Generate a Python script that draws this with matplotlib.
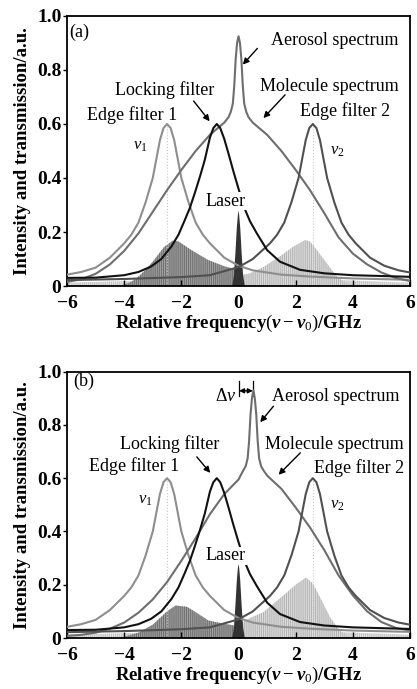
import numpy as np
import matplotlib.pyplot as plt

plt.rcParams['font.family'] = ['Liberation Serif', 'DejaVu Serif']
plt.rcParams['mathtext.fontset'] = 'custom'
plt.rcParams['mathtext.rm'] = 'Liberation Serif'
plt.rcParams['mathtext.it'] = 'Liberation Serif:italic'
plt.rcParams['mathtext.bf'] = 'Liberation Serif:bold'
plt.rcParams['mathtext.bfit'] = 'Liberation Serif:italic:bold'
plt.rcParams['hatch.linewidth'] = 0.8

# filters (same in both panels)
edge1_x = [-6, -5.5, -5, -4.5, -4, -3.75, -3.5, -3.25, -3.0, -2.875, -2.75, -2.625, -2.5,
           -2.375, -2.25, -2.125, -2.0, -1.75, -1.5, -1.25, -1.0, -0.5, 0.0, 0.5, 1.5, 2.5, 4.0, 6.0]
edge1_y = [0.042, 0.052, 0.068, 0.105, 0.158, 0.19, 0.235, 0.31, 0.40, 0.47, 0.54, 0.585, 0.60,
           0.585, 0.54, 0.47, 0.40, 0.31, 0.235, 0.19, 0.158, 0.105, 0.075, 0.058, 0.042, 0.035, 0.028, 0.023]

edge2_x = [-6, -4, -2, -1, 0, 0.5, 1.1, 1.35, 1.6, 1.85, 2.1, 2.225, 2.35, 2.475, 2.6,
           2.725, 2.85, 2.975, 3.1, 3.35, 3.6, 3.85, 4.1, 4.6, 5.1, 5.6, 6]
edge2_y = [0.022, 0.026, 0.033, 0.04, 0.07, 0.1, 0.158, 0.19, 0.235, 0.31, 0.40, 0.47, 0.54, 0.585, 0.60,
           0.585, 0.54, 0.47, 0.40, 0.31, 0.235, 0.19, 0.158, 0.105, 0.075, 0.058, 0.05]

lock_x = [-6, -5, -4, -3.5, -3.06, -2.7, -2.35, -2.1, -1.88, -1.7, -1.53, -1.35, -1.18, -1.0, -0.88,
          -0.76, -0.64, -0.5, -0.35, -0.18, 0.0, 0.2, 0.4, 0.64, 1.0, 1.45, 2.15, 3.0, 4.0, 6.0]
lock_y = [0.03, 0.031, 0.04, 0.052, 0.072, 0.1, 0.146, 0.19, 0.244, 0.29, 0.344, 0.405, 0.467, 0.55, 0.585,
          0.60, 0.585, 0.545, 0.49, 0.425, 0.36, 0.29, 0.24, 0.195, 0.133, 0.09, 0.06, 0.047, 0.04, 0.034]

laser_x = [-0.22, -0.16, -0.11, -0.06, -0.025, 0, 0.025, 0.06, 0.11, 0.16, 0.22]
laser_y = [0, 0.04, 0.12, 0.215, 0.26, 0.28, 0.26, 0.215, 0.12, 0.04, 0]

band_x = [-6, -4, -2, 0, 2, 4, 6]
band_y = [0.012, 0.018, 0.025, 0.045, 0.03, 0.02, 0.012]

# panel (a): molecule + aerosol spectrum
spec_a_x = [-6, -5.5, -5, -4.5, -4, -3.5, -3, -2.5, -2, -1.5, -1, -0.5, -0.35, -0.27, -0.2, -0.15,
            -0.1, -0.05, 0, 0.05, 0.1, 0.15, 0.2, 0.27, 0.35, 0.5, 1, 1.5, 2, 2.5, 3, 3.5, 4, 4.5, 5, 5.5, 6]
spec_a_y = [0.015, 0.025, 0.045, 0.08, 0.13, 0.195, 0.275, 0.355, 0.43, 0.50, 0.56, 0.605, 0.625, 0.645, 0.675, 0.74,
            0.84, 0.90, 0.925, 0.90, 0.84, 0.74, 0.675, 0.645, 0.625, 0.605, 0.56, 0.50, 0.43, 0.355, 0.27, 0.18, 0.12,
            0.08, 0.05, 0.03, 0.018]
dark_a_x = [-4.2, -4, -3.75, -3.5, -3.25, -3, -2.6, -2.3, -2.1, -1.65, -1.06, -0.47, 0, 0.1]
dark_a_y = [0, 0.005, 0.015, 0.035, 0.06, 0.09, 0.145, 0.168, 0.165, 0.133, 0.096, 0.072, 0.06, 0]
light_a_x = [-0.05, 0, 0.4, 0.87, 1.45, 1.92, 2.33, 2.5, 2.74, 3.09, 3.44, 3.7, 4.0, 4.2]
light_a_y = [0, 0.035, 0.047, 0.07, 0.11, 0.146, 0.17, 0.165, 0.133, 0.084, 0.035, 0.015, 0.005, 0]

# panel (b): spectrum shifted by delta nu
spec_b_x = [-6, -5.5, -5, -4.5, -4, -3.5, -3, -2.5, -2, -1.5, -1, -0.5, 0, 0.17, 0.25, 0.32, 0.37, 0.42,
            0.47, 0.52, 0.57, 0.62, 0.67, 0.72, 0.79, 0.87, 1.0, 1.5, 2, 2.5, 3, 3.5, 4, 4.5, 5, 5.5, 6]
spec_b_y = [0.008, 0.012, 0.02, 0.035, 0.058, 0.095, 0.145, 0.21, 0.29, 0.375, 0.465, 0.54, 0.595, 0.63, 0.645,
            0.675, 0.74, 0.84, 0.90, 0.93, 0.90, 0.84, 0.74, 0.675, 0.645, 0.63, 0.61, 0.56, 0.49, 0.415, 0.33,
            0.235, 0.16, 0.1, 0.06, 0.038, 0.028]
dark_b_x = [-4.2, -4, -3.5, -3, -2.5, -2.2, -1.8, -1.5, -1.06, -0.5, 0, 0.1]
dark_b_y = [0, 0.005, 0.02, 0.05, 0.1, 0.122, 0.117, 0.097, 0.066, 0.053, 0.045, 0]
light_b_x = [-0.05, 0, 0.4, 0.87, 1.57, 2.0, 2.36, 2.6, 2.85, 3.2, 3.55, 3.8, 4.0]
light_b_y = [0, 0.05, 0.075, 0.097, 0.16, 0.2, 0.227, 0.205, 0.153, 0.078, 0.027, 0.01, 0]

nu1, nu2 = -2.5, 2.6
xticks = [-6, -4, -2, 0, 2, 4, 6]
yticks = [0, 0.2, 0.4, 0.6, 0.8, 1.0]
ytick_labels = ['0', '0.2', '0.4', '0.6', '0.8', '1.0']

FS = 13


def arrow(ax, tip, tail):
    ax.annotate('', xy=tip, xytext=tail,
                arrowprops=dict(arrowstyle='-|>', color='k', lw=1.0, mutation_scale=9, shrinkA=0, shrinkB=0))


def draw_panel(ax, spec_x, spec_y, dark_x, dark_y, light_x, light_y, lab, lab_pos):
    # bar-like spectra
    ax.fill_between(band_x, band_y, facecolor='#e6e6e6', edgecolor='#c4c4c4', hatch='||||||||', lw=0, zorder=1)
    ax.fill_between(dark_x, dark_y, facecolor='#a4a4a4', edgecolor='#707070', hatch='||||||||', lw=0, zorder=1)
    ax.fill_between(light_x, light_y, facecolor='#e0e0e0', edgecolor='#b4b4b4', hatch='||||||||', lw=0, zorder=1)
    ax.fill(laser_x, laser_y, color='#333333', lw=0, zorder=2)
    ax.plot([nu1, nu1], [0, 0.6], ls=':', color='#c8c8c8', lw=0.8, zorder=1.5)
    ax.plot([nu2, nu2], [0, 0.6], ls=':', color='#c8c8c8', lw=0.8, zorder=1.5)

    ax.plot(edge1_x, edge1_y, color='#8e8e8e', lw=1.5, zorder=3)
    ax.plot(spec_x, spec_y, color='#6e6e6e', lw=1.5, zorder=3)
    ax.plot(edge2_x, edge2_y, color='#505050', lw=1.5, zorder=3)
    ax.plot(lock_x, lock_y, color='#111111', lw=1.5, zorder=4)

    ax.set_xlim(-6, 6)
    ax.set_ylim(0, 1)
    ax.set_xticks(xticks)
    ax.set_xticklabels(['\u2212' + str(-t) if t < 0 else str(t) for t in xticks])
    ax.set_yticks(yticks)
    ax.set_yticklabels(ytick_labels)
    ax.tick_params(axis='x', direction='in', length=4, width=1, pad=6.5)
    ax.tick_params(axis='y', direction='out', length=3, width=1, pad=1)
    for t in ax.get_xticklabels() + ax.get_yticklabels():
        t.set_fontsize(14)
        t.set_fontweight('bold')
    for s in ax.spines.values():
        s.set_linewidth(1.3)
    ax.set_xlabel(r'Relative frequency$(\mathbfit{\nu}-\mathbfit{\nu}_0)$/GHz', fontsize=13.5, fontweight='bold', labelpad=0.5)
    ax.set_ylabel('Intensity and transmission/a.u.', fontsize=13.5, fontweight='bold', labelpad=4)
    ax.text(lab_pos[0], lab_pos[1], lab, fontsize=FS, ha='center', va='center')


fig = plt.figure(figsize=(4.17, 6.89), dpi=100)
ax1 = fig.add_axes([0.1607, 0.5849, 0.8226, 0.3919])
ax2 = fig.add_axes([0.1607, 0.0740, 0.8226, 0.3866])

draw_panel(ax1, spec_a_x, spec_a_y, dark_a_x, dark_a_y, light_a_x, light_a_y, '(a)', (-5.58, 0.94))
ax1.text(3.35, 0.91, 'Aerosol spectrum', fontsize=FS, ha='center', va='center')
arrow(ax1, (0.15, 0.82), (0.66, 0.88))
ax1.text(-2.6, 0.727, 'Locking filter', fontsize=FS, ha='center', va='center')
arrow(ax1, (-1.01, 0.61), (-1.57, 0.685))
ax1.text(3.18, 0.739, 'Molecule spectrum', fontsize=FS, ha='center', va='center')
arrow(ax1, (0.87, 0.622), (1.63, 0.708))
ax1.text(-3.73, 0.634, 'Edge filter 1', fontsize=FS, ha='center', va='center')
ax1.text(3.73, 0.647, 'Edge filter 2', fontsize=FS, ha='center', va='center')
ax1.text(-3.44, 0.517, r'$\nu_1$', fontsize=12, ha='center', va='center')
ax1.text(3.44, 0.50, r'$\nu_2$', fontsize=12, ha='center', va='center')
ax1.text(-0.44, 0.314, 'Laser', fontsize=FS, ha='center', va='center', zorder=5,
         bbox=dict(facecolor='white', edgecolor='none', pad=0.5))

draw_panel(ax2, spec_b_x, spec_b_y, dark_b_x, dark_b_y, light_b_x, light_b_y, '(b)', (-5.42, 0.965))
ax2.text(3.4, 0.906, 'Aerosol spectrum', fontsize=FS, ha='center', va='center')
arrow(ax2, (0.76, 0.81), (1.22, 0.87))
ax2.text(-2.42, 0.73, 'Locking filter', fontsize=FS, ha='center', va='center')
arrow(ax2, (-0.99, 0.62), (-1.46, 0.68))
ax2.text(3.35, 0.726, 'Molecule spectrum', fontsize=FS, ha='center', va='center')
arrow(ax2, (1.4, 0.613), (2.16, 0.695))
ax2.text(-3.66, 0.645, 'Edge filter 1', fontsize=FS, ha='center', va='center')
ax2.text(4.2, 0.638, 'Edge filter 2', fontsize=FS, ha='center', va='center')
ax2.text(-3.26, 0.52, r'$\nu_1$', fontsize=12, ha='center', va='center')
ax2.text(3.44, 0.50, r'$\nu_2$', fontsize=12, ha='center', va='center')
ax2.text(-0.44, 0.308, 'Laser', fontsize=FS, ha='center', va='center', zorder=5,
         bbox=dict(facecolor='white', edgecolor='none', pad=0.5))
ax2.text(-0.45, 0.905, r'$\Delta\nu$', fontsize=FS, ha='center', va='center')
ax2.plot([0.02, 0.02], [0.91, 0.965], color='k', lw=0.9)
ax2.plot([0.5, 0.5], [0.91, 0.965], color='k', lw=0.9)
ax2.annotate('', xy=(0.5, 0.928), xytext=(0.02, 0.928),
             arrowprops=dict(arrowstyle='<|-|>', color='k', lw=1.0, mutation_scale=7, shrinkA=0, shrinkB=0))

fig.savefig('out.png', dpi=100)
